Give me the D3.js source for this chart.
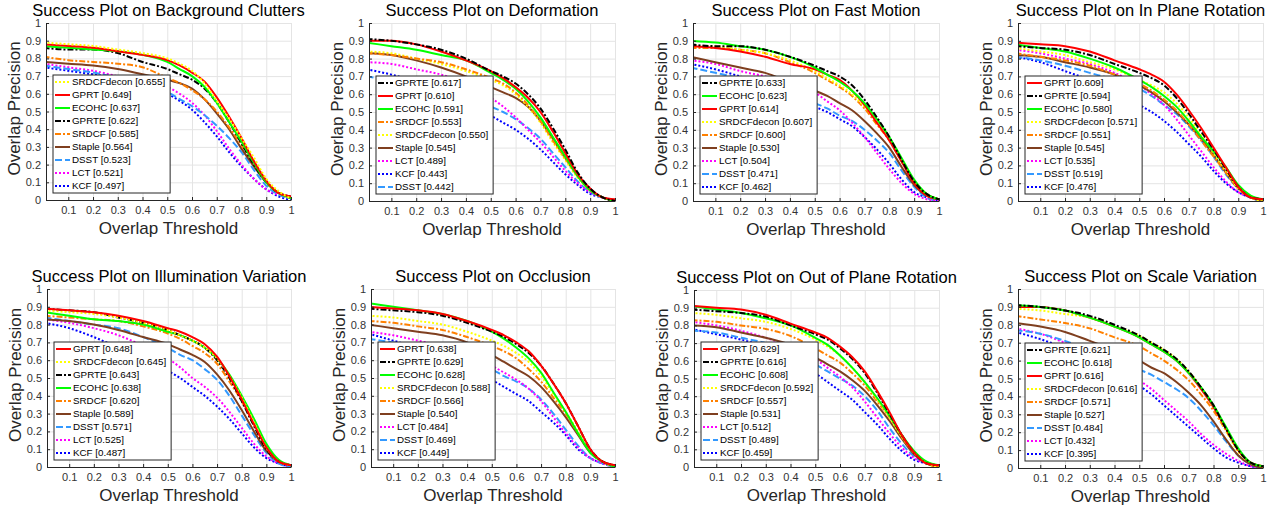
<!DOCTYPE html>
<meta charset="utf-8">
<style>
body { margin: 0; background: #fff; }
text { font-family: "Liberation Sans", Arial, sans-serif; }
.grid line { stroke: #e4e4e4; stroke-width: 1; }
.grid path { display: none; }
.axis path, .axis line { stroke: #262626; }
.axis text { fill: #333; font-size: 11px; }
.curve { fill: none; stroke-width: 2; }
</style>
<body>
<svg width="1276" height="511"></svg>
<script src="https://d3js.org/d3.v7.min.js"></script>
<script>

var thresholds = [0, 0.1, 0.2, 0.3, 0.4, 0.5, 0.55, 0.6, 0.65, 0.7, 0.75, 0.8, 0.85, 0.9, 0.95, 1];
var xTicks = [0.1, 0.2, 0.3, 0.4, 0.5, 0.6, 0.7, 0.8, 0.9, 1];
var yTicks = [0, 0.1, 0.2, 0.3, 0.4, 0.5, 0.6, 0.7, 0.8, 0.9, 1];

var trackers = ["GPRT", "GPRTE", "ECOHC", "SRDCFdecon", "SRDCF", "Staple", "DSST", "LCT", "KCF"];

var titles = [
  "Success Plot on Background Clutters",
  "Success Plot on Deformation",
  "Success Plot on Fast Motion",
  "Success Plot on In Plane Rotation",
  "Success Plot on Illumination Variation",
  "Success Plot on Occlusion",
  "Success Plot on Out of Plane Rotation",
  "Success Plot on Scale Variation"
];

// AUC scores, same order as trackers
var scoresBC  = [0.649, 0.622, 0.637, 0.655, 0.585, 0.564, 0.523, 0.521, 0.497];
var scoresDEF = [0.610, 0.617, 0.591, 0.550, 0.553, 0.545, 0.442, 0.489, 0.443];
var scoresFM  = [0.614, 0.633, 0.623, 0.607, 0.600, 0.530, 0.471, 0.504, 0.462];
var scoresIPR = [0.609, 0.594, 0.580, 0.571, 0.551, 0.545, 0.519, 0.535, 0.476];
var scoresIV  = [0.648, 0.643, 0.638, 0.645, 0.620, 0.589, 0.571, 0.525, 0.487];
var scoresOCC = [0.638, 0.629, 0.628, 0.588, 0.566, 0.540, 0.469, 0.484, 0.449];
var scoresOPR = [0.629, 0.616, 0.608, 0.592, 0.557, 0.531, 0.489, 0.512, 0.459];
var scoresSV  = [0.616, 0.621, 0.618, 0.616, 0.571, 0.527, 0.484, 0.432, 0.395];

// success rates per tracker (rows follow trackers order)
var curvesBC = [
  [0.88,0.87,0.86,0.84,0.82,0.79,0.76,0.72,0.67,0.58,0.47,0.35,0.22,0.11,0.04,0.02],
  [0.86,0.85,0.85,0.83,0.78,0.74,0.71,0.68,0.63,0.55,0.44,0.32,0.20,0.10,0.04,0.02],
  [0.87,0.86,0.85,0.84,0.82,0.78,0.74,0.70,0.64,0.55,0.44,0.33,0.21,0.10,0.04,0.01],
  [0.89,0.88,0.87,0.85,0.83,0.80,0.77,0.73,0.66,0.56,0.46,0.35,0.24,0.12,0.05,0.01],
  [0.81,0.79,0.78,0.77,0.75,0.69,0.66,0.62,0.57,0.50,0.41,0.31,0.21,0.10,0.04,0.01],
  [0.78,0.77,0.76,0.74,0.71,0.68,0.66,0.63,0.57,0.49,0.40,0.29,0.19,0.10,0.04,0.02],
  [0.76,0.74,0.72,0.69,0.66,0.61,0.57,0.53,0.48,0.42,0.35,0.27,0.17,0.08,0.03,0.01],
  [0.77,0.75,0.73,0.70,0.68,0.64,0.60,0.55,0.48,0.39,0.29,0.20,0.12,0.06,0.03,0.01],
  [0.75,0.73,0.71,0.69,0.66,0.60,0.56,0.51,0.44,0.36,0.27,0.19,0.12,0.06,0.02,0.00]
];
var curvesDEF = [
  [0.90,0.90,0.88,0.84,0.79,0.73,0.69,0.64,0.58,0.50,0.39,0.27,0.15,0.07,0.02,0.01],
  [0.91,0.90,0.88,0.85,0.80,0.73,0.70,0.66,0.60,0.52,0.41,0.29,0.16,0.07,0.02,0.00],
  [0.89,0.87,0.85,0.82,0.79,0.72,0.68,0.63,0.56,0.47,0.36,0.25,0.14,0.06,0.02,0.00],
  [0.84,0.83,0.80,0.77,0.73,0.68,0.65,0.60,0.53,0.44,0.33,0.23,0.13,0.06,0.02,0.00],
  [0.83,0.82,0.80,0.78,0.74,0.69,0.66,0.61,0.54,0.45,0.34,0.24,0.14,0.06,0.02,0.00],
  [0.83,0.82,0.79,0.75,0.70,0.64,0.61,0.58,0.53,0.45,0.35,0.24,0.14,0.06,0.02,0.00],
  [0.70,0.68,0.66,0.63,0.58,0.53,0.50,0.46,0.41,0.35,0.27,0.19,0.11,0.05,0.02,0.00],
  [0.78,0.77,0.74,0.71,0.66,0.58,0.53,0.47,0.40,0.33,0.25,0.17,0.10,0.05,0.02,0.00],
  [0.74,0.71,0.67,0.62,0.56,0.48,0.44,0.40,0.35,0.29,0.22,0.15,0.09,0.04,0.02,0.00]
];
var curvesFM = [
  [0.87,0.86,0.84,0.81,0.77,0.74,0.71,0.68,0.62,0.54,0.44,0.34,0.22,0.10,0.03,0.01],
  [0.88,0.87,0.87,0.85,0.81,0.76,0.73,0.70,0.65,0.57,0.47,0.36,0.23,0.11,0.04,0.01],
  [0.90,0.89,0.87,0.85,0.81,0.75,0.71,0.67,0.62,0.55,0.46,0.36,0.24,0.12,0.04,0.01],
  [0.87,0.87,0.85,0.83,0.79,0.73,0.69,0.65,0.60,0.53,0.45,0.35,0.23,0.11,0.04,0.01],
  [0.86,0.86,0.85,0.83,0.78,0.72,0.68,0.64,0.59,0.52,0.43,0.34,0.22,0.11,0.04,0.01],
  [0.81,0.78,0.75,0.72,0.67,0.62,0.59,0.55,0.51,0.45,0.38,0.30,0.19,0.09,0.03,0.01],
  [0.75,0.72,0.69,0.66,0.61,0.55,0.52,0.48,0.45,0.40,0.34,0.27,0.17,0.08,0.02,0.00],
  [0.79,0.77,0.73,0.70,0.66,0.61,0.56,0.51,0.44,0.36,0.27,0.18,0.10,0.04,0.01,0.00],
  [0.77,0.74,0.70,0.66,0.60,0.53,0.50,0.46,0.42,0.36,0.29,0.21,0.12,0.05,0.02,0.00]
];
var curvesIPR = [
  [0.89,0.88,0.87,0.84,0.79,0.74,0.71,0.67,0.60,0.51,0.41,0.30,0.19,0.08,0.02,0.01],
  [0.87,0.86,0.85,0.82,0.77,0.72,0.69,0.65,0.58,0.49,0.39,0.29,0.18,0.08,0.02,0.01],
  [0.88,0.86,0.84,0.80,0.75,0.68,0.64,0.59,0.53,0.45,0.36,0.28,0.19,0.09,0.03,0.01],
  [0.86,0.84,0.82,0.78,0.74,0.68,0.65,0.61,0.55,0.47,0.37,0.27,0.17,0.07,0.02,0.00],
  [0.83,0.81,0.79,0.76,0.71,0.66,0.62,0.57,0.51,0.43,0.34,0.25,0.16,0.07,0.02,0.00],
  [0.82,0.81,0.78,0.75,0.71,0.65,0.61,0.56,0.50,0.43,0.35,0.26,0.16,0.07,0.02,0.00],
  [0.81,0.79,0.76,0.72,0.68,0.63,0.59,0.54,0.49,0.42,0.34,0.25,0.15,0.07,0.02,0.00],
  [0.85,0.83,0.80,0.77,0.72,0.65,0.60,0.54,0.46,0.37,0.28,0.19,0.11,0.05,0.02,0.00],
  [0.81,0.78,0.73,0.68,0.62,0.54,0.50,0.45,0.39,0.32,0.25,0.17,0.10,0.05,0.02,0.00]
];
var curvesIV = [
  [0.89,0.88,0.87,0.85,0.82,0.78,0.76,0.73,0.69,0.62,0.51,0.38,0.24,0.11,0.03,0.01],
  [0.89,0.88,0.87,0.84,0.81,0.77,0.74,0.71,0.67,0.60,0.50,0.37,0.23,0.10,0.03,0.01],
  [0.87,0.85,0.83,0.82,0.80,0.76,0.74,0.71,0.67,0.61,0.52,0.40,0.27,0.13,0.04,0.01],
  [0.88,0.87,0.86,0.84,0.81,0.77,0.74,0.71,0.67,0.61,0.51,0.39,0.25,0.11,0.03,0.01],
  [0.85,0.84,0.83,0.82,0.79,0.75,0.72,0.68,0.64,0.58,0.48,0.37,0.24,0.11,0.03,0.01],
  [0.83,0.82,0.80,0.77,0.73,0.69,0.66,0.63,0.59,0.52,0.43,0.32,0.20,0.09,0.03,0.01],
  [0.84,0.82,0.80,0.78,0.73,0.67,0.63,0.60,0.55,0.49,0.40,0.29,0.18,0.08,0.02,0.00],
  [0.83,0.81,0.78,0.74,0.68,0.61,0.56,0.50,0.45,0.39,0.31,0.22,0.13,0.06,0.02,0.00],
  [0.81,0.78,0.73,0.67,0.61,0.54,0.50,0.45,0.40,0.34,0.27,0.19,0.11,0.05,0.02,0.00]
];
var curvesOCC = [
  [0.90,0.89,0.88,0.86,0.82,0.77,0.74,0.70,0.65,0.57,0.47,0.36,0.23,0.10,0.03,0.01],
  [0.89,0.88,0.87,0.85,0.81,0.76,0.73,0.69,0.64,0.57,0.47,0.36,0.23,0.10,0.03,0.01],
  [0.92,0.90,0.88,0.86,0.82,0.76,0.72,0.67,0.61,0.53,0.42,0.31,0.19,0.08,0.03,0.00],
  [0.85,0.84,0.82,0.80,0.76,0.71,0.68,0.64,0.59,0.51,0.41,0.31,0.20,0.09,0.03,0.00],
  [0.82,0.81,0.79,0.77,0.73,0.68,0.65,0.61,0.55,0.48,0.39,0.30,0.19,0.09,0.03,0.00],
  [0.80,0.78,0.76,0.74,0.70,0.63,0.59,0.55,0.51,0.45,0.37,0.28,0.18,0.08,0.03,0.01],
  [0.72,0.70,0.68,0.65,0.61,0.55,0.51,0.48,0.44,0.38,0.30,0.21,0.12,0.05,0.02,0.00],
  [0.76,0.74,0.71,0.68,0.65,0.57,0.53,0.49,0.44,0.37,0.28,0.19,0.11,0.05,0.02,0.00],
  [0.75,0.71,0.67,0.62,0.56,0.49,0.45,0.41,0.37,0.31,0.25,0.18,0.10,0.05,0.02,0.00]
];
var curvesOPR = [
  [0.91,0.90,0.89,0.86,0.81,0.76,0.73,0.68,0.62,0.54,0.43,0.31,0.18,0.08,0.02,0.01],
  [0.89,0.88,0.87,0.85,0.80,0.75,0.72,0.67,0.61,0.53,0.42,0.30,0.18,0.08,0.02,0.01],
  [0.91,0.89,0.87,0.84,0.80,0.73,0.69,0.63,0.56,0.48,0.39,0.29,0.18,0.09,0.03,0.01],
  [0.87,0.86,0.84,0.82,0.78,0.72,0.68,0.63,0.56,0.48,0.38,0.28,0.17,0.08,0.02,0.00],
  [0.83,0.82,0.80,0.78,0.74,0.67,0.63,0.59,0.53,0.46,0.37,0.28,0.17,0.08,0.02,0.00],
  [0.80,0.79,0.76,0.73,0.69,0.62,0.58,0.54,0.49,0.43,0.35,0.26,0.16,0.07,0.02,0.00],
  [0.77,0.76,0.73,0.70,0.65,0.58,0.54,0.50,0.46,0.40,0.32,0.22,0.13,0.06,0.02,0.00],
  [0.82,0.80,0.77,0.73,0.68,0.61,0.56,0.51,0.45,0.37,0.28,0.19,0.11,0.05,0.02,0.00],
  [0.78,0.75,0.72,0.68,0.62,0.53,0.48,0.43,0.38,0.31,0.24,0.16,0.09,0.04,0.02,0.00]
];
var curvesSV = [
  [0.90,0.90,0.88,0.84,0.79,0.73,0.69,0.65,0.60,0.53,0.44,0.34,0.22,0.10,0.03,0.01],
  [0.91,0.90,0.88,0.85,0.80,0.74,0.70,0.66,0.61,0.54,0.45,0.35,0.22,0.10,0.03,0.01],
  [0.91,0.90,0.88,0.84,0.79,0.73,0.69,0.65,0.60,0.53,0.45,0.35,0.23,0.11,0.03,0.01],
  [0.89,0.88,0.86,0.84,0.79,0.74,0.70,0.66,0.61,0.54,0.45,0.34,0.21,0.09,0.03,0.01],
  [0.85,0.83,0.81,0.78,0.73,0.68,0.64,0.60,0.55,0.49,0.41,0.32,0.21,0.10,0.03,0.01],
  [0.81,0.79,0.76,0.71,0.66,0.60,0.56,0.53,0.48,0.42,0.35,0.26,0.16,0.07,0.02,0.00],
  [0.77,0.75,0.71,0.66,0.61,0.55,0.52,0.48,0.44,0.39,0.32,0.24,0.15,0.07,0.02,0.00],
  [0.78,0.75,0.70,0.65,0.58,0.49,0.44,0.38,0.32,0.26,0.19,0.13,0.08,0.04,0.01,0.00],
  [0.76,0.72,0.67,0.61,0.55,0.46,0.41,0.35,0.29,0.23,0.17,0.11,0.06,0.03,0.01,0.00]
];

// line styles
var style = {
  GPRT:       { color: "#ff0000", dash: null },
  GPRTE:      { color: "#000000", dash: "6,2,2,2" },
  ECOHC:      { color: "#00ff00", dash: null },
  SRDCFdecon: { color: "#ffff00", dash: "2,2" },
  SRDCF:      { color: "#ff8000", dash: "6,2,2,2" },
  Staple:     { color: "#7f3f1f", dash: null },
  DSST:       { color: "#3399ff", dash: "7,3" },
  LCT:        { color: "#ff00ff", dash: "2,2" },
  KCF:        { color: "#0000ff", dash: "2,2" }
};

// plot boxes: left, right, top, bottom
var boxes = [
  [46, 291, 23, 200], [369, 615, 23, 201], [693, 939, 23, 201], [1018, 1263, 23, 201],
  [47, 291, 289, 467], [371, 615, 289, 467], [694, 939, 290, 467], [1018, 1263, 289, 468]
];

var panels = [
  { curves: curvesBC, scores: scoresBC },
  { curves: curvesDEF, scores: scoresDEF },
  { curves: curvesFM, scores: scoresFM },
  { curves: curvesIPR, scores: scoresIPR },
  { curves: curvesIV, scores: scoresIV },
  { curves: curvesOCC, scores: scoresOCC },
  { curves: curvesOPR, scores: scoresOPR },
  { curves: curvesSV, scores: scoresSV }
];

var svg = d3.select("svg");
var fmt = d3.format("~g");

panels.forEach(function(p, k) {
  var b = boxes[k];
  var w = b[1] - b[0], h = b[3] - b[2];
  var x = d3.scaleLinear().domain([0.01, 1]).range([0, w]);
  var y = d3.scaleLinear().domain([0, 1]).range([h, 0]);

  var g = svg.append("g").attr("transform", "translate(" + b[0] + "," + b[2] + ")");

  g.append("clipPath").attr("id", "clip" + k)
    .append("rect").attr("width", w).attr("height", h);

  g.append("g").attr("class", "grid").attr("transform", "translate(0," + h + ")")
    .call(d3.axisBottom(x).tickValues(xTicks).tickSize(-h).tickFormat(""));
  g.append("g").attr("class", "grid")
    .call(d3.axisLeft(y).tickValues(yTicks).tickSize(-w).tickFormat(""));

  // order series by score, best drawn last
  var order = trackers.map(function(t, i) { return { name: t, i: i, score: p.scores[i] }; });
  order.sort(function(a, c) { return c.score - a.score; });

  var line = d3.line()
    .x(function(d, i) { return x(thresholds[i]); })
    .y(function(d) { return y(d); })
    .curve(d3.curveMonotoneX);

  var lines = g.append("g").attr("clip-path", "url(#clip" + k + ")");
  order.slice().reverse().forEach(function(s) {
    lines.append("path").attr("class", "curve")
      .attr("d", line(p.curves[s.i]))
      .attr("stroke", style[s.name].color)
      .attr("stroke-dasharray", style[s.name].dash);
  });

  g.append("g").attr("class", "axis").attr("transform", "translate(0," + h + ")")
    .call(d3.axisBottom(x).tickValues(xTicks).tickSize(-3).tickSizeOuter(0).tickPadding(6).tickFormat(fmt));
  g.append("g").attr("class", "axis")
    .call(d3.axisLeft(y).tickValues(yTicks).tickSize(-3).tickSizeOuter(0).tickPadding(5).tickFormat(fmt));

  g.append("text").attr("x", w / 2).attr("y", -7)
    .attr("text-anchor", "middle").style("font-size", "16.5px").attr("fill", "#000")
    .text(titles[k]);
  g.append("text").attr("x", w / 2).attr("y", h + 34)
    .attr("text-anchor", "middle").style("font-size", "17px").attr("fill", "#262626")
    .text("Overlap Threshold");
  g.append("text").attr("transform", "translate(-26," + (h / 2 - 3) + ") rotate(-90)")
    .attr("text-anchor", "middle").style("font-size", "17px").attr("fill", "#262626")
    .text("Overlap Precision");

  // legend
  var rowH = 13, lh = order.length * rowH + 1;
  var leg = g.append("g").attr("transform", "translate(7," + (h - 7 - lh) + ")");
  var box = leg.append("rect").attr("height", lh).attr("fill", "#fff")
    .attr("stroke", "#262626").attr("stroke-width", 1);
  var maxW = 0;
  order.forEach(function(s, i) {
    var cy = 7 + i * rowH;
    leg.append("line").attr("x1", 2).attr("x2", 17).attr("y1", cy).attr("y2", cy)
      .attr("stroke", style[s.name].color).attr("stroke-width", 2)
      .attr("stroke-dasharray", style[s.name].dash);
    var t = leg.append("text").attr("x", 19).attr("y", cy).attr("dy", "0.35em")
      .style("font-size", "9.8px").attr("fill", "#000")
      .text(s.name + " [" + s.score.toFixed(3) + "]");
    maxW = Math.max(maxW, t.node().getComputedTextLength());
  });
  box.attr("width", 19 + maxW + 5);
});

</script>
</body>
</html>
